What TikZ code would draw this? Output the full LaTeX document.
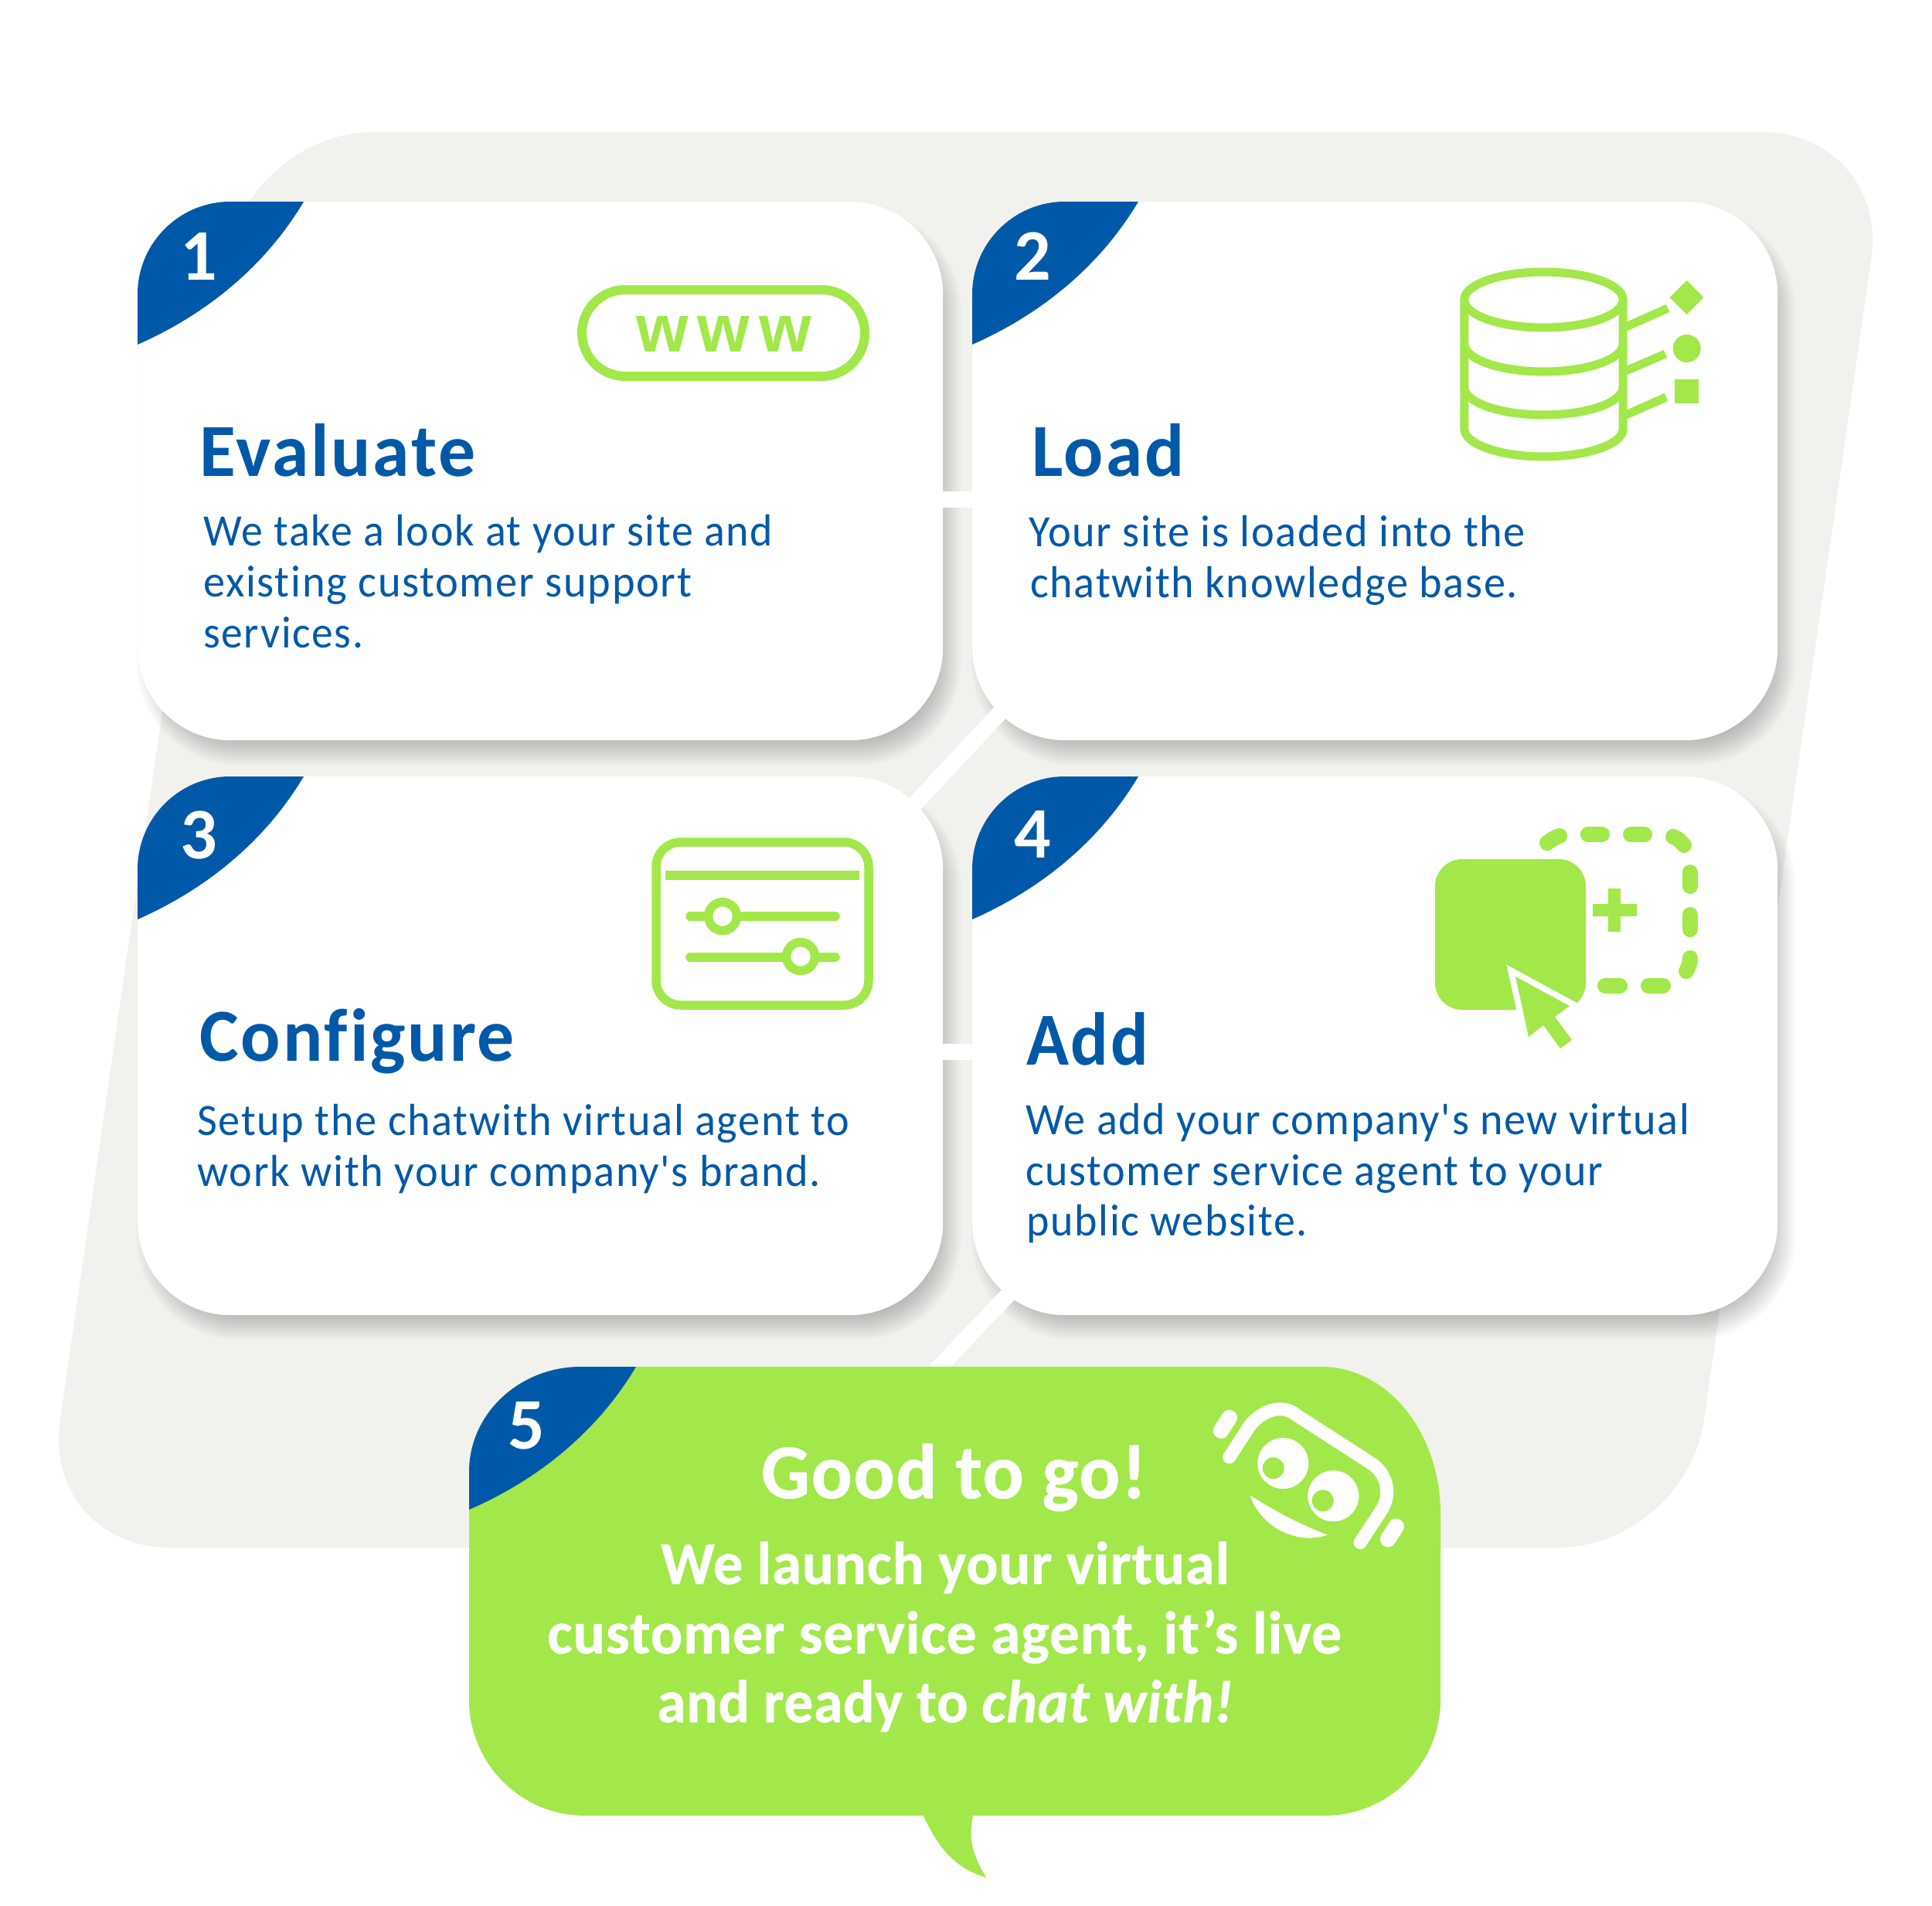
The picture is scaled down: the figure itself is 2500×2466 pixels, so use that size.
\documentclass[tikz,border=0pt]{standalone}
\usepackage{fontspec}
\usepackage{graphicx}
\setmainfont{Carlito}[Ligatures={NoCommon,TeXOff}]
\newfontfamily\wwwfont{Liberation Sans}[LetterSpace=14]
\usetikzlibrary{calc}
\definecolor{lime}{HTML}{A2E84A}
\definecolor{navy}{HTML}{0059A8}
\definecolor{blob}{HTML}{F1F2EE}
\pgfdeclarelayer{bglayer}
\pgfsetlayers{bglayer,main}
\newcommand{\fitw}[2]{\resizebox{#1pt}{\height}{#2}}
\newcommand{\cardshadow}[1]{%
  \foreach \e in {-24,-21,...,12}{%
    \pgfmathsetmacro{\rr}{max(120+\e,10)}
    \fill[black,opacity=.018,rounded corners=\rr pt]
      ($(#1.north west)+(-\e+11,-\e+20)$) rectangle ($(#1.south east)+(\e+11,\e+20)$);
  }}
\newcommand{\bluecorner}[1]{%
  \begin{scope}
    \clip[rounded corners=120pt] (#1.north west) rectangle (#1.south east);
    \fill[navy,shift={(#1.north west)}] (0,0) -- (215,0) .. controls (162,89) and (82,149) .. (0,185) -- cycle;
  \end{scope}}
\tikzset{
  card/.style={fill=white,rounded corners=120pt,minimum width=1042pt,minimum height=697pt,inner sep=0pt,anchor=north west},
  head/.style={navy,inner sep=0pt,anchor=base west,font=\fontsize{97}{97}\selectfont\bfseries\addfontfeature{LetterSpace=3}},
  body/.style={navy,inner sep=0pt,anchor=base west,font=\fontsize{58}{58}\selectfont\addfontfeature{LetterSpace=3}},
  num/.style={white,inner sep=0pt,anchor=base,font=\fontsize{94}{94}\selectfont\bfseries},
  cta/.style={white,inner sep=0pt,anchor=base west,font=\fontsize{78}{78}\selectfont\bfseries\addfontfeature{LetterSpace=1,FakeBold=0.7}},
  link/.style={white,line width=21pt},
  iconline/.style={lime,line width=11pt},
  dashpart/.style={lime,line width=20pt,line cap=round},
  face/.style={white,line cap=round}
}
\begin{document}
\begin{tikzpicture}[x=1pt,y=-1pt]
\useasboundingbox (0,0) rectangle (2500,2466);
% cards
\node[card] (card1) at (178,261) {};
\node[card] (card2) at (1258,261) {};
\node[card] (card3) at (178,1005) {};
\node[card] (card4) at (1258,1005) {};
\coordinate (d1a) at (1300,916);
\coordinate (d1b) at (1176,1049);
\coordinate (d2a) at (1312,1668);
\coordinate (d2b) at (1205,1780);
\begin{pgfonlayer}{bglayer}
  \fill[white] (0,0) rectangle (2500,2466);
  \fill[blob,rounded corners=165pt] (318,171) -- (2445,171) -- (2181,2003) -- (54,2003) -- cycle;
  \cardshadow{card1}\cardshadow{card2}\cardshadow{card3}\cardshadow{card4}
  \draw[link] ([yshift=-36.5pt]card1.east) -- ([yshift=-36.5pt]card2.west);
  \draw[link] ([yshift=-8pt]card3.east) -- ([yshift=-8pt]card4.west);
  \draw[link] (d1a) -- (d1b);
  \draw[link] (d2a) -- (d2b);
\end{pgfonlayer}
\bluecorner{card1}\bluecorner{card2}\bluecorner{card3}\bluecorner{card4}
% numbers
\node[num] (n1) at (257,362) {1};
\node[num] (n2) at (1336,362) {2};
\node[num] (n3) at (257,1111) {3};
\node[num] (n4) at (1336,1110) {4};
% card 1
\node[head] (t1) at (258,616) {\fitw{357}{Evaluate}};
\node[body] (t1a) at (263,706) {\fitw{737}{We take a look at your site and}};
\node[body] (t1b) at (263,772) {\fitw{632}{existing customer support}};
\node[body] (t1c) at (263,838) {\fitw{207}{services.}};
% card 2
\node[head] (t2) at (1335,616) {\fitw{197}{Load}};
\node[body] (t2a) at (1331,707) {\fitw{643}{Your site is loaded into the}};
\node[body] (t2b) at (1333,773) {\fitw{631}{chatwith knowledge base.}};
% card 3
\node[head] (t3) at (258,1373) {\fitw{408}{Configure}};
\node[body] (t3a) at (255,1469) {\fitw{844}{Setup the chatwith virtual agent to}};
\node[body] (t3b) at (255,1535) {\fitw{807}{work with your company's brand.}};
% card 4
\node[head] (t4) at (1328,1378) {\fitw{158}{Add}};
\node[body] (t4a) at (1327,1468) {\fitw{859}{We add your company's new virtual}};
\node[body] (t4b) at (1327,1534) {\fitw{747}{customer service agent to your}};
\node[body] (t4c) at (1328,1599) {\fitw{364}{public website.}};
% www icon
\draw[lime,line width=12pt,rounded corners=56pt] (753,375) rectangle (1119,487);
\node[lime,inner sep=0pt,anchor=base west,font=\wwwfont\fontsize{87}{87}\selectfont\bfseries] (www) at (823,455) {www};
% database icon
\draw[iconline] (1997.5,388) ellipse [x radius=102.7,y radius=36];
\draw[iconline] (1894.8,388) -- (1894.8,555) arc [start angle=180,end angle=0,x radius=102.7,y radius=36] -- (2100.2,388);
\draw[iconline] (1894.8,445) arc [start angle=180,end angle=0,x radius=102.7,y radius=36];
\draw[iconline] (1894.8,501) arc [start angle=180,end angle=0,x radius=102.7,y radius=36];
\draw[lime,line width=11pt] (2104,423) -- (2158,399);
\draw[lime,line width=11pt] (2104,480) -- (2155,458);
\draw[lime,line width=11pt] (2104,537) -- (2156,514);
\fill[lime] (2182.7,363) -- (2204.7,385) -- (2182.7,407) -- (2160.7,385) -- cycle;
\fill[lime] (2182.7,451) circle (18);
\fill[lime] (2166.7,491) rectangle (2198.3,522);
% settings icon
\draw[lime,line width=11.5pt,rounded corners=32pt] (849,1090) rectangle (1124,1301);
\draw[lime,line width=11.5pt] (861,1133) -- (1112,1133);
\draw[lime,line width=11.5pt,line cap=round] (893,1186) -- (1081,1186);
\draw[lime,line width=11.5pt,line cap=round] (893,1239) -- (1081,1239);
\draw[lime,fill=white,line width=11.5pt] (935,1186) circle (18.4);
\draw[lime,fill=white,line width=11.5pt] (1036,1238) circle (18.4);
% add icon
\fill[lime,rounded corners=35pt] (1857,1112) rectangle (2052,1307);
\draw[white,line width=16pt,line join=miter,miter limit=10]
  (1961,1264) -- (2031,1302) -- (2012,1316) -- (2034,1346) -- (2019,1357) -- (1997,1327) -- (1978,1342) -- cycle;
\fill[lime] (1961,1264) -- (2031,1302) -- (2012,1316) -- (2034,1346) -- (2019,1357) -- (1997,1327) -- (1978,1342) -- cycle;
\fill[lime] (2061,1170) rectangle (2117.5,1186);
\fill[lime] (2081,1150) rectangle (2097,1206);
\draw[dashpart] (2002,1091) .. controls (2007,1087) and (2012,1084) .. (2018,1082);
\draw[dashpart] (2055,1080) -- (2073,1080);
\draw[dashpart] (2110,1080) -- (2128,1080);
\draw[dashpart] (2165,1083) .. controls (2171,1085) and (2175,1089) .. (2179,1094);
\draw[dashpart] (2187,1129) -- (2187,1147);
\draw[dashpart] (2187,1184) -- (2187,1203);
\draw[dashpart] (2187,1240) .. controls (2187,1246) and (2185,1252) .. (2182,1257);
\draw[dashpart] (2152,1276) -- (2133,1276);
\draw[dashpart] (2096,1276) -- (2077,1276);
% card 5
\fill[lime] (607,1905) arc [start angle=180,end angle=270,x radius=145,y radius=136]
  -- (1710,1769) arc [start angle=270,end angle=360,x radius=154,y radius=190]
  -- (1864,2200) arc [start angle=0,end angle=90,x radius=150,y radius=150]
  -- (1259,2350) .. controls (1253,2380) and (1258,2400) .. (1276,2430)
  .. controls (1240,2420) and (1215,2395) .. (1195,2350)
  -- (757,2350) arc [start angle=90,end angle=180,x radius=150,y radius=150] -- cycle;
\begin{scope}
  \clip (607,1905) arc [start angle=180,end angle=270,x radius=145,y radius=136] -- (900,1769) -- (900,2000) -- (607,2000) -- cycle;
  \fill[navy] (607,1769) -- (823,1769) .. controls (770,1858) and (690,1918) .. (607,1954) -- cycle;
\end{scope}
\node[num] (n5) at (681,1875) {5};
\node[cta,font=\fontsize{100}{100}\selectfont\bfseries\addfontfeature{LetterSpace=2,FakeBold=1}] (g1) at (985,1939) {\fitw{498}{Good to go!}};
\node[cta] (g2) at (855,2050) {\fitw{736}{We launch your virtual}};
\node[cta] (g3) at (708,2140) {\fitw{1028}{customer service agent, it’s live}};
\node[cta] (g4) at (850,2229) {\fitw{746}{and ready to \textit{chat with!}}};
% mascot
\draw[face,line width=17pt] (1590.7,1886) -- (1616.7,1846) .. controls (1627,1832) and (1655,1812) .. (1679.3,1832.7) -- (1773.3,1893.3) .. controls (1795,1907) and (1801,1934) .. (1787.3,1955) -- (1760,1996.7);
\draw[face,line width=20.5pt] (1590.7,1835) -- (1580,1851.7);
\draw[face,line width=20.5pt] (1806.7,1975.7) -- (1796,1992.3);
\fill[white] (1660.3,1894) circle (33);
\fill[lime] (1647.7,1900.3) circle (14);
\fill[white] (1725.3,1936.3) circle (33);
\fill[lime] (1711.7,1942.3) circle (14);
\fill[white] (1617.3,1935.3) .. controls (1650,1956) and (1680,1972) .. (1717.7,1986.7) .. controls (1680,2000) and (1632,1978) .. (1617.3,1935.3) -- cycle;
\end{tikzpicture}
\end{document}
